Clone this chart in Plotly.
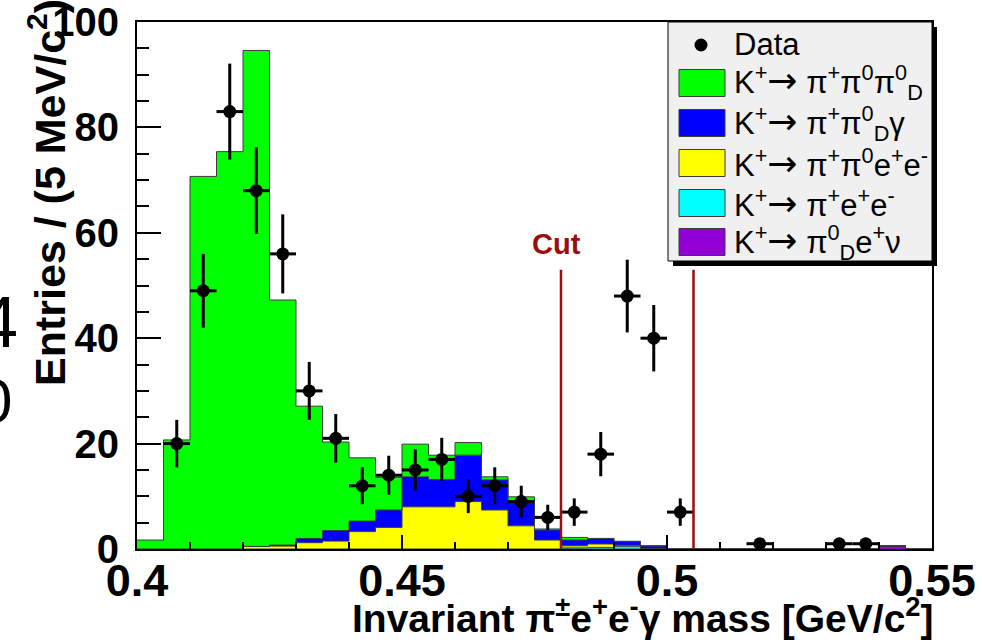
import numpy as np
import plotly.graph_objects as go

# ---------------- data ----------------
x_lo, x_hi, n_bins = 0.40, 0.55, 30
bin_edges = np.linspace(x_lo, x_hi, n_bins + 1)
bin_centers = 0.5 * (bin_edges[:-1] + bin_edges[1:])
bin_half = 0.0025

data_counts = [0, 20, 49, 83, 68, 56, 30, 21, 12, 14, 15, 17, 10, 12, 9, 6, 7, 18, 48, 40,
               7, 0, 0, 1, 0, 0, 1, 1, 0, 0]
data_err = [0, 4.5, 7.0, 9.1, 8.2, 7.5, 5.5, 4.6, 3.5, 3.7, 3.9, 4.1, 3.2, 3.5, 3.0, 2.4, 2.6, 4.2, 6.9, 6.3,
            2.6, 0, 0, 1.0, 0, 0, 1.0, 1.0, 0, 0]

mc_pipi0pi0D = [1.7, 20.7, 70.7, 75.4, 94.1, 46.5, 25.1, 16.8, 12.0, 6.2, 6.2, 4.6, 2.4, 0.6, 0.7, 0.2, 0.5, 0, 0, 0,
                0, 0, 0, 0, 0, 0, 0, 0, 0, 0]
mc_pipi0Dg = [0, 0, 0, 0, 0, 0.2, 0.8, 2.0, 2.0, 3.3, 5.7, 5.2, 8.8, 5.7, 4.8, 1.9, 1.1, 1.05, 0.75, 0.5,
              0, 0, 0, 0, 0, 0, 0, 0, 0, 0]
mc_pipi0ee = [0, 0, 0, 0, 0.5, 0.55, 1.2, 1.5, 3.3, 4.1, 8.0, 8.0, 9.0, 7.4, 4.4, 1.7, 0.4, 0.65, 0.2, 0,
              0, 0, 0, 0, 0, 0, 0, 0, 0, 0]
mc_piee = [0, 0, 0, 0, 0, 0, 0, 0, 0, 0, 0, 0, 0, 0, 0, 0, 0.2, 0.3, 0.5, 0.1,
           0, 0, 0, 0, 0, 0, 0, 0, 0, 0]
mc_pi0Dev = [0, 0, 0, 0, 0, 0, 0, 0, 0, 0, 0, 0, 0, 0, 0, 0, 0, 0, 0, 0,
             0, 0, 0, 0, 0, 0, 0, 0, 0.6, 0]

cut_low, cut_high, cut_top = 0.48, 0.505, 53

ARROW = "<span style='font-family:DejaVu Sans;font-size:36px'>\u2192</span>"
legend_labels = [
    "Data",
    "K<sup>+</sup>" + ARROW + " \u03c0<sup>+</sup>\u03c0<sup>0</sup>\u03c0<sup>0</sup><sub>D</sub>",
    "K<sup>+</sup>" + ARROW + " \u03c0<sup>+</sup>\u03c0<sup>0</sup><sub>D</sub>\u03b3",
    "K<sup>+</sup>" + ARROW + " \u03c0<sup>+</sup>\u03c0<sup>0</sup>e<sup>+</sup>e<sup>-</sup>",
    "K<sup>+</sup>" + ARROW + " \u03c0<sup>+</sup>e<sup>+</sup>e<sup>-</sup>",
    "K<sup>+</sup>" + ARROW + " \u03c0<sup>0</sup><sub>D</sub>e<sup>+</sup>\u03bd",
]

GREEN, BLUE, YELLOW, CYAN, PURPLE = "#00ff00", "#0000ff", "#ffff00", "#00ffff", "#9100d4"
DARKRED = "#9a0e0e"
OUTLINE = "#3c3c3c"

# ---------------- geometry helpers (pixel -> paper) ----------------
W, H = 982, 642
L, R, T, B = 137, 932, 22, 549


def px(xp):
    return (xp - L) / (R - L)


def py(yp):
    return (B - yp) / (B - T)


fig = go.Figure()

# stacked MC (bottom -> top)
layers = [(mc_pi0Dev, PURPLE), (mc_piee, CYAN), (mc_pipi0ee, YELLOW), (mc_pipi0Dg, BLUE), (mc_pipi0pi0D, GREEN)]
cum = np.zeros(n_bins)
for i, (vals, col) in enumerate(layers):
    cum = cum + np.array(vals, dtype=float)
    fig.add_trace(go.Scatter(
        x=bin_edges, y=np.append(cum, cum[-1]), mode="lines",
        line=dict(shape="hv", color=OUTLINE, width=1),
        fill="tozeroy" if i == 0 else "tonexty", fillcolor=col,
        hoverinfo="skip", showlegend=False))

# data points
dc = np.array(data_counts, dtype=float)
de = np.array(data_err, dtype=float)
mask = dc > 0
fig.add_trace(go.Scatter(
    x=bin_centers[mask], y=dc[mask], mode="markers",
    marker=dict(color="black", size=13),
    error_y=dict(type="data", array=de[mask], color="black", thickness=3, width=0),
    error_x=dict(type="constant", value=bin_half, color="black", thickness=3, width=0),
    showlegend=False))

shapes = []
# cut lines
for c in (cut_low, cut_high):
    shapes.append(dict(type="line", xref="x", yref="y", x0=c, x1=c, y0=0, y1=cut_top,
                       line=dict(color=DARKRED, width=2.5)))

# legend box with shadow
shapes.append(dict(type="rect", xref="paper", yref="paper", x0=px(673), x1=px(937), y0=py(266), y1=py(27),
                   fillcolor="black", line=dict(width=0), layer="above"))
shapes.append(dict(type="rect", xref="paper", yref="paper", x0=px(668), x1=px(932), y0=py(261), y1=py(22),
                   fillcolor="#f0f0f0", line=dict(color="black", width=1), layer="above"))
# data marker in legend
shapes.append(dict(type="circle", xref="paper", yref="paper", x0=px(694.5), x1=px(707.5), y0=py(51.5), y1=py(38.5),
                   fillcolor="black", line=dict(width=0), layer="above"))
row_y = [44, 83, 123, 163, 203, 242]
sw_cols = [GREEN, BLUE, YELLOW, CYAN, PURPLE]
for yc, col in zip(row_y[1:], sw_cols):
    shapes.append(dict(type="rect", xref="paper", yref="paper", x0=px(679), x1=px(725),
                       y0=py(yc + 13.5), y1=py(yc - 13.5), fillcolor=col,
                       line=dict(color=OUTLINE, width=1), layer="above"))

annotations = []
for yc, lab in zip(row_y, legend_labels):
    annotations.append(dict(xref="paper", yref="paper", x=px(732), y=py(yc), xanchor="left", yanchor="middle",
                            text=lab, showarrow=False,
                            font=dict(family="Liberation Sans", size=31, color="black")))

# "Cut" label
annotations.append(dict(xref="x", yref="y", x=cut_low - 0.0008, y=cut_top + 1.5,
                        xanchor="center", yanchor="bottom", text="<b>Cut</b>", showarrow=False,
                        font=dict(family="Liberation Sans", size=29, color=DARKRED)))

# axis titles
annotations.append(dict(xref="paper", yref="paper", x=px(47), y=py(193), xanchor="center", yanchor="middle",
                        textangle=-90, showarrow=False,
                        text="<b>Entries / (5 MeV/c<sup>2</sup>)</b>",
                        font=dict(family="Liberation Sans", size=43, color="black")))
annotations.append(dict(xref="paper", yref="paper", x=px(936), y=py(615), xanchor="right", yanchor="middle",
                        showarrow=False,
                        text="<b>Invariant \u03c0<sup>\u00b1</sup>e<sup>+</sup>e<sup>-</sup>\u03b3 mass [GeV/c<sup>2</sup>]</b>",
                        font=dict(family="Liberation Sans", size=39, color="black")))

# fragments of a neighbouring figure at the left edge
annotations.append(dict(xref="paper", yref="paper", x=px(20), y=py(322), xanchor="right", yanchor="middle",
                        showarrow=False, text="4", font=dict(family="Liberation Sans", size=72, color="black")))
annotations.append(dict(xref="paper", yref="paper", x=px(14), y=py(400), xanchor="right", yanchor="middle",
                        showarrow=False, text="0", font=dict(family="Liberation Sans", size=62, color="black")))

fig.update_layout(
    width=W, height=H,
    margin=dict(l=L, r=W - R, t=T, b=H - B, autoexpand=False),
    paper_bgcolor="white", plot_bgcolor="white",
    shapes=shapes, annotations=annotations,
    xaxis=dict(range=[x_lo, x_hi], tick0=0.4, dtick=0.05, ticks="inside", ticklen=14, tickwidth=1.5,
               tickcolor="black", showline=True, linecolor="black", linewidth=2, mirror=True,
               showgrid=False, zeroline=False, ticklabelstandoff=-9, automargin=False,
               minor=dict(tick0=0.4, dtick=0.01, ticks="inside", ticklen=7, tickwidth=1.5, tickcolor="black",
                          showgrid=False),
               tickfont=dict(family="Liberation Sans", size=45, color="black", weight="bold")),
    yaxis=dict(range=[0, 100], tick0=0, dtick=20, ticks="inside", ticklen=24, tickwidth=1.5,
               tickcolor="black", showline=True, linecolor="black", linewidth=2, mirror=True,
               showgrid=False, zeroline=False, ticklabelstandoff=8, automargin=False,
               minor=dict(tick0=0, dtick=5, ticks="inside", ticklen=12, tickwidth=1.5, tickcolor="black",
                          showgrid=False),
               tickfont=dict(family="Liberation Sans", size=40, color="black", weight="bold")),
)

fig.write_html("out.html")
